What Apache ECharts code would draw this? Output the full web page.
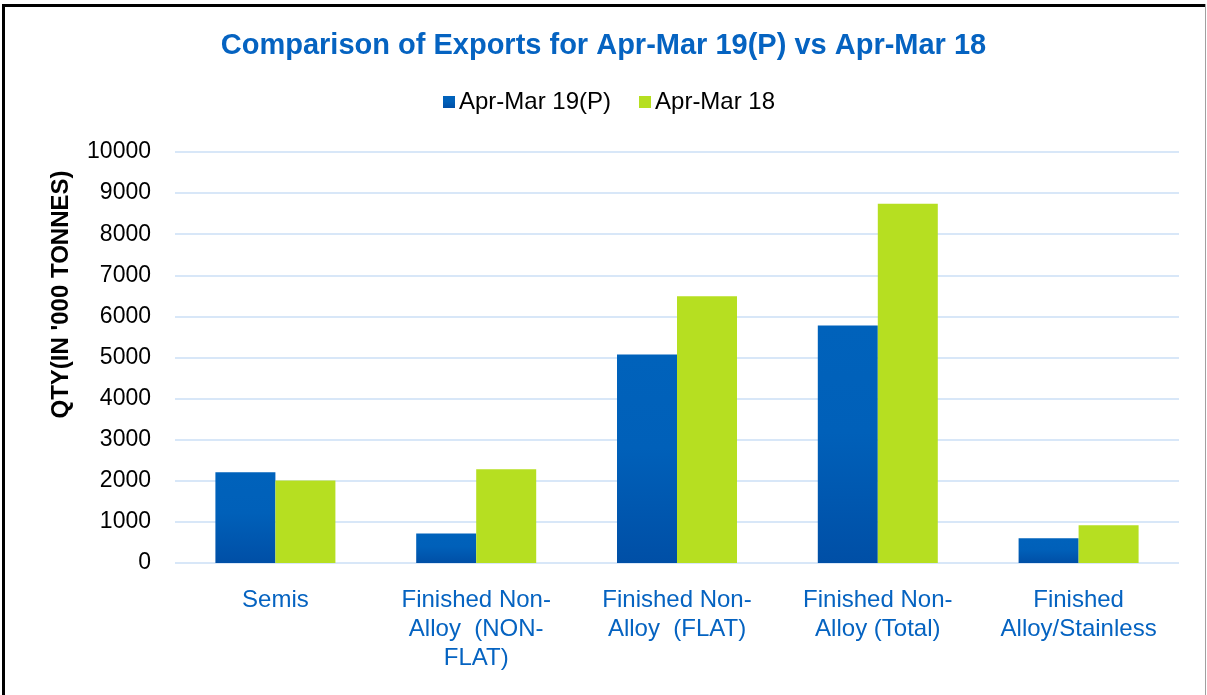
<!DOCTYPE html>
<html>
<head>
<meta charset="utf-8">
<script src="https://cdn.jsdelivr.net/npm/echarts@6/dist/echarts.min.js"></script>
<style>
html,body{margin:0;padding:0;background:#fff;}
#chart{width:1207px;height:695px;}
</style>
</head>
<body>
<div id="chart"></div>
<script>
const categories = ['Semis', 'Finished Non-\nAlloy  (NON-\nFLAT)', 'Finished Non-\nAlloy  (FLAT)', 'Finished Non-\nAlloy (Total)', 'Finished\nAlloy/Stainless'];
const seriesNames = ['Apr-Mar 19(P)', 'Apr-Mar 18'];
const apr19 = [2205, 720, 5070, 5780, 600];
const apr18 = [2010, 2280, 6490, 8740, 920];
const yMin = 0, yMax = 10000, yStep = 1000;

const chart = echarts.init(document.getElementById('chart'));
const font = 'Liberation Sans, Arial, sans-serif';
chart.setOption({
  backgroundColor: '#fff',
  animation: false,
  title: {
    text: 'Comparison of Exports for Apr-Mar 19(P) vs Apr-Mar 18',
    left: 'center', top: 26,
    textStyle: {fontFamily: font, fontSize: 29, fontWeight: 'bold', color: '#0563c1'}
  },
  legend: {
    data: seriesNames, top: 85, left: 438,
    icon: 'rect', itemWidth: 12, itemHeight: 12, itemGap: 28,
    textStyle: {fontFamily: font, fontSize: 24, color: '#000', padding: [0,0,0,-1]}
  },
  grid: {left: 175, right: 28, top: 152, bottom: 132, containLabel: false},
  xAxis: {
    type: 'category', data: categories,
    axisLine: {show: false}, axisTick: {show: false},
    axisLabel: {fontFamily: font, fontSize: 24, color: '#0563c1', lineHeight: 29, margin: 23, interval: 0}
  },
  yAxis: {
    type: 'value', min: yMin, max: yMax, interval: yStep,
    name: "QTY(IN '000 TONNES)", nameLocation: 'middle', nameRotate: 90, nameGap: 102,
    nameTextStyle: {fontFamily: font, fontSize: 24, fontWeight: 'bold', color: '#000', padding: [0,0,0,126]},
    axisLine: {show: false}, axisTick: {show: false},
    axisLabel: {fontFamily: font, fontSize: 23, color: '#000', margin: 24, formatter: v => String(v)},
    splitLine: {lineStyle: {color: '#d8e7f8', width: 2}}
  },
  series: [
    {
      name: seriesNames[0], type: 'bar', data: apr19, barWidth: 60, barGap: '0%',
      itemStyle: {color: new echarts.graphic.LinearGradient(0,0,0,1,[
        {offset: 0, color: '#0062bb'}, {offset: 0.45, color: '#0060b9'}, {offset: 1, color: '#004fa6'}])}
    },
    {
      name: seriesNames[1], type: 'bar', data: apr18, barWidth: 60,
      itemStyle: {color: '#b6df21'}
    }
  ],
  graphic: [
    {type: 'rect', shape: {x: 2, y: 4, width: 1203, height: 3}, style: {fill: '#000'}},
    {type: 'rect', shape: {x: 2, y: 4, width: 3, height: 691}, style: {fill: '#000'}},
    {type: 'rect', shape: {x: 1205, y: 4, width: 1, height: 691}, style: {fill: '#a0a0a0'}}
  ]
});
</script>
</body>
</html>
